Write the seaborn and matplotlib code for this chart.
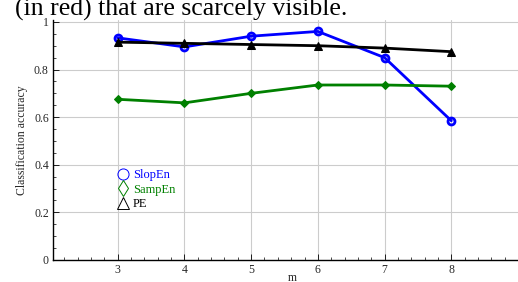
import matplotlib
matplotlib.use("Agg")
import matplotlib.pyplot as plt
from matplotlib.lines import Line2D
from matplotlib.ticker import MultipleLocator, FuncFormatter
import pandas as pd
import seaborn as sns

m_values = [3, 4, 5, 6, 7, 8]
slopen = [0.933, 0.895, 0.940, 0.960, 0.850, 0.585]
sampen = [0.675, 0.660, 0.700, 0.735, 0.735, 0.730]
pe = [0.915, 0.910, 0.905, 0.900, 0.890, 0.875]

series_names = ["SlopEn", "SampEn", "PE"]
series_colors = ["#0000ff", "#008000", "#000000"]

sns.set_style("whitegrid")
plt.rcParams["font.family"] = ["Liberation Serif", "DejaVu Serif"]

df = pd.DataFrame({"m": m_values, "SlopEn": slopen, "SampEn": sampen, "PE": pe})

fig = plt.figure(figsize=(5.18, 2.82), dpi=100)
ax = fig.add_axes([53 / 518, 1 - 260 / 282, 1 - 53 / 518, (260 - 20) / 282])

sns.lineplot(data=df, x="m", y="SlopEn", ax=ax, color=series_colors[0], lw=2,
             marker="o", ms=5, mfc="none", mec=series_colors[0], mew=2)
sns.lineplot(data=df, x="m", y="SampEn", ax=ax, color=series_colors[1], lw=2,
             marker="D", ms=4, mfc=series_colors[1], mec=series_colors[1])
sns.lineplot(data=df, x="m", y="PE", ax=ax, color=series_colors[2], lw=2,
             marker="^", ms=6, mfc=series_colors[2], mec=series_colors[2])

ax.set_xlim(2.03, 9.0)
ax.set_ylim(0, 1.008)
ax.set_xticks(m_values)
ax.xaxis.set_minor_locator(MultipleLocator(0.2))
ax.yaxis.set_major_locator(MultipleLocator(0.2))
ax.yaxis.set_minor_locator(MultipleLocator(0.05))
ax.yaxis.set_major_formatter(FuncFormatter(lambda v, p: f"{v:g}"))

ax.grid(True, which="major", color="#cccccc", lw=0.8)
ax.grid(False, which="minor")
for s in ["top", "right"]:
    ax.spines[s].set_visible(False)
for s in ["left", "bottom"]:
    ax.spines[s].set_color("black")
    ax.spines[s].set_linewidth(1.0)
ax.tick_params(which="both", direction="in", labelsize=8.5, color="black",
               bottom=True, left=True, pad=3)
ax.tick_params(which="major", length=4, width=0.6)
ax.tick_params(which="minor", length=2, width=0.5)

ax.set_xlabel("m", fontsize=8.5)
ax.xaxis.set_label_coords(0.515, -0.05)
ax.set_ylabel("Classification accuracy", fontsize=8.5, labelpad=4)

handles = [
    Line2D([], [], ls="none", marker="o", ms=8, mfc="none", mec=series_colors[0], mew=0.7),
    Line2D([], [], ls="none", marker="d", ms=8, mfc="none", mec=series_colors[1], mew=0.7),
    Line2D([], [], ls="none", marker="^", ms=8, mfc="none", mec=series_colors[2], mew=0.7),
]
leg = ax.legend(handles, series_names, loc="upper left",
                bbox_to_anchor=((119 - 53) / 465, (260 - 169) / 240),
                frameon=False, fontsize=9, handlelength=0.7, handletextpad=0.4,
                labelspacing=0.2, borderpad=0, borderaxespad=0)
for txt, c in zip(leg.get_texts(), series_colors):
    txt.set_color(c)

fig.text(15 / 518, 1 - 16 / 282, "(in red) that are scarcely visible.",
         fontsize=18.5, va="baseline", ha="left", color="black")

fig.savefig("out.png", dpi=100)
